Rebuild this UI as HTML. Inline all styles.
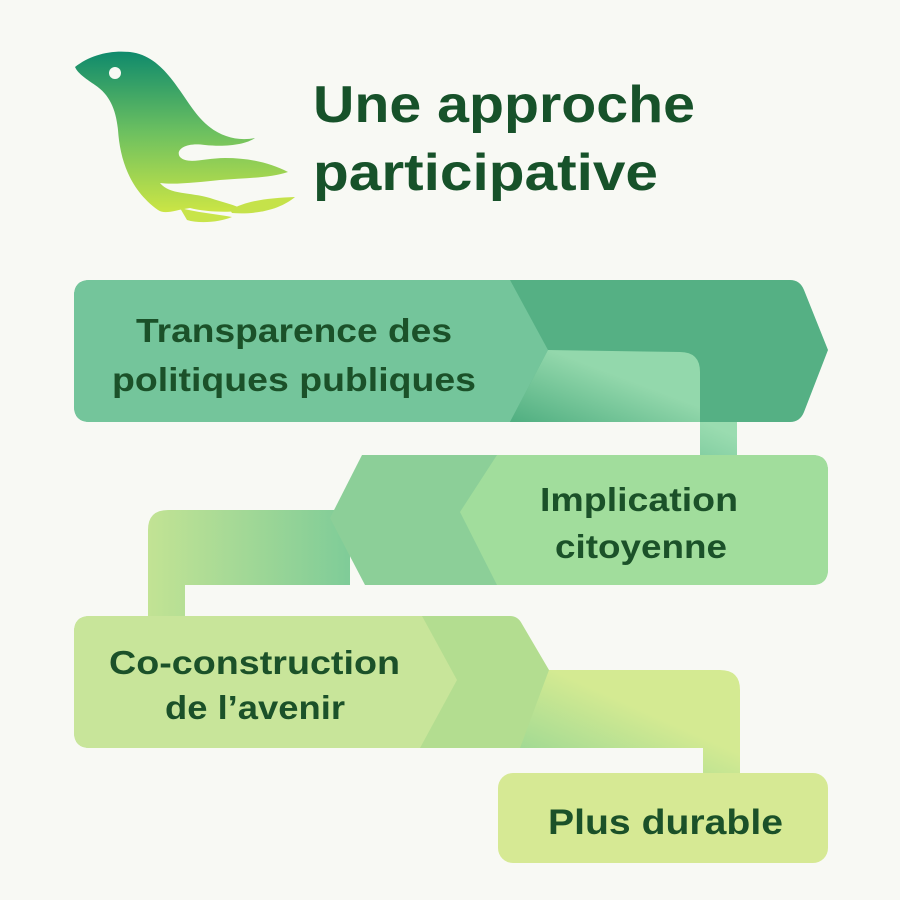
<!DOCTYPE html>
<html><head><meta charset="utf-8"><style>
html,body{margin:0;padding:0;background:#f8f9f4;}
svg{display:block}
text{font-family:"Liberation Sans",sans-serif;font-weight:bold;}
</style></head><body>
<svg width="900" height="900" viewBox="0 0 900 900" xmlns="http://www.w3.org/2000/svg">
<defs>
<linearGradient id="bird" x1="0" y1="0" x2="0" y2="1">
<stop offset="0" stop-color="#0f8a6c"/><stop offset="0.5" stop-color="#6cc060"/><stop offset="1" stop-color="#cbe545"/>
</linearGradient>
<linearGradient id="c1" x1="0" y1="1" x2="1" y2="0">
<stop offset="0" stop-color="#4fae80"/><stop offset="0.6" stop-color="#9adcb0"/>
</linearGradient>
<linearGradient id="c2" x1="0" y1="0" x2="1" y2="0">
<stop offset="0" stop-color="#c2e394"/><stop offset="1" stop-color="#7fcc98"/>
</linearGradient>
<linearGradient id="c3" x1="0" y1="1" x2="1" y2="0">
<stop offset="0" stop-color="#90d494"/><stop offset="0.6" stop-color="#d4ea92"/>
</linearGradient>
</defs>
<rect width="900" height="900" fill="#f8f9f4"/>

<!-- bird -->
<path fill="url(#bird)" d="M75 67 C90 55 110 50 130 52 C165 56 180 95 200 118 C215 135 235 142 255 138 C245 145 225 147 205 145 C185 142 175 150 180 157 C188 165 205 158 225 158 C250 158 270 163 288 172 C270 178 245 178 220 180 C200 182 175 185 160 183 C170 195 190 192 210 198 C222 202 235 205 245 210 C232 213 205 212 190 208 C175 210 165 215 158 210 C130 190 120 160 118 130 C116 110 110 95 95 85 C88 80 78 74 75 67 Z"/>
<path fill="#c5e24a" d="M230 210 C248 200 270 198 295 197 C282 208 260 215 232 213 Z"/>
<path fill="#c8e44a" d="M180 208 C195 212 215 214 232 217 C220 222 200 224 187 220 Z"/>
<circle cx="115" cy="73" r="6" fill="#f8f9f4"/>

<text x="313" y="122" font-size="52" fill="#17522a" textLength="382" lengthAdjust="spacingAndGlyphs">Une approche</text>
<text x="313" y="190" font-size="52" fill="#17522a" textLength="345" lengthAdjust="spacingAndGlyphs">participative</text>

<!-- connector 1 -->
<path fill="url(#c1)" d="M520 352 H717 Q737 352 737 372 V458 H700 V422 H505 Z"/>
<!-- box1 -->
<path fill="#55b084" d="M90 280 H790 Q800 280 804 290 L828 350 L804 412 Q800 422 790 422 H90 Q74 422 74 406 V296 Q74 280 90 280 Z"/>
<path fill="#74c59b" d="M90 280 H510 L548 350 L510 422 H90 Q74 422 74 406 V296 Q74 280 90 280 Z"/>
<path fill="url(#c1)" d="M548 350 L510 422 H700 V372 Q700 352 680 352 Z" opacity="0.9"/>
<text font-size="33" fill="#1b5129"><tspan x="136" y="342" textLength="316" lengthAdjust="spacingAndGlyphs">Transparence des</tspan><tspan x="112" y="391" textLength="364" lengthAdjust="spacingAndGlyphs">politiques publiques</tspan></text>

<!-- connector 2 -->
<path fill="url(#c2)" d="M168 510 H350 V585 H185 V616 H148 V530 Q148 510 168 510 Z"/>
<!-- box2 -->
<path fill="#8ccf98" d="M362 455 H812 Q828 455 828 471 V569 Q828 585 812 585 H365 L330 518 Z"/>
<path fill="#a1dd9c" d="M497 455 H812 Q828 455 828 471 V569 Q828 585 812 585 H497 L460 512 Z"/>
<text font-size="33" fill="#1b5129"><tspan x="540" y="511" textLength="198" lengthAdjust="spacingAndGlyphs">Implication</tspan><tspan x="555" y="558" textLength="172" lengthAdjust="spacingAndGlyphs">citoyenne</tspan></text>

<!-- connector 3 -->
<path fill="url(#c3)" d="M540 670 H720 Q740 670 740 690 V775 H703 V748 H505 Z"/>
<!-- box3 -->
<path fill="#b3dd90" d="M90 616 H510 Q518 616 522 624 L549 670 L520 748 H90 Q74 748 74 732 V632 Q74 616 90 616 Z"/>
<path fill="#c8e59a" d="M90 616 H422 L457 680 L420 748 H90 Q74 748 74 732 V632 Q74 616 90 616 Z"/>
<text font-size="33" fill="#1b5129"><tspan x="109" y="674" textLength="291" lengthAdjust="spacingAndGlyphs">Co-construction</tspan><tspan x="165" y="719" textLength="180" lengthAdjust="spacingAndGlyphs">de l’avenir</tspan></text>

<!-- box4 -->
<rect x="498" y="773" width="330" height="90" rx="15" fill="#d6e994"/>
<text x="548" y="834" font-size="35" fill="#1b5129" textLength="235" lengthAdjust="spacingAndGlyphs">Plus durable</text>
</svg>
</body></html>
